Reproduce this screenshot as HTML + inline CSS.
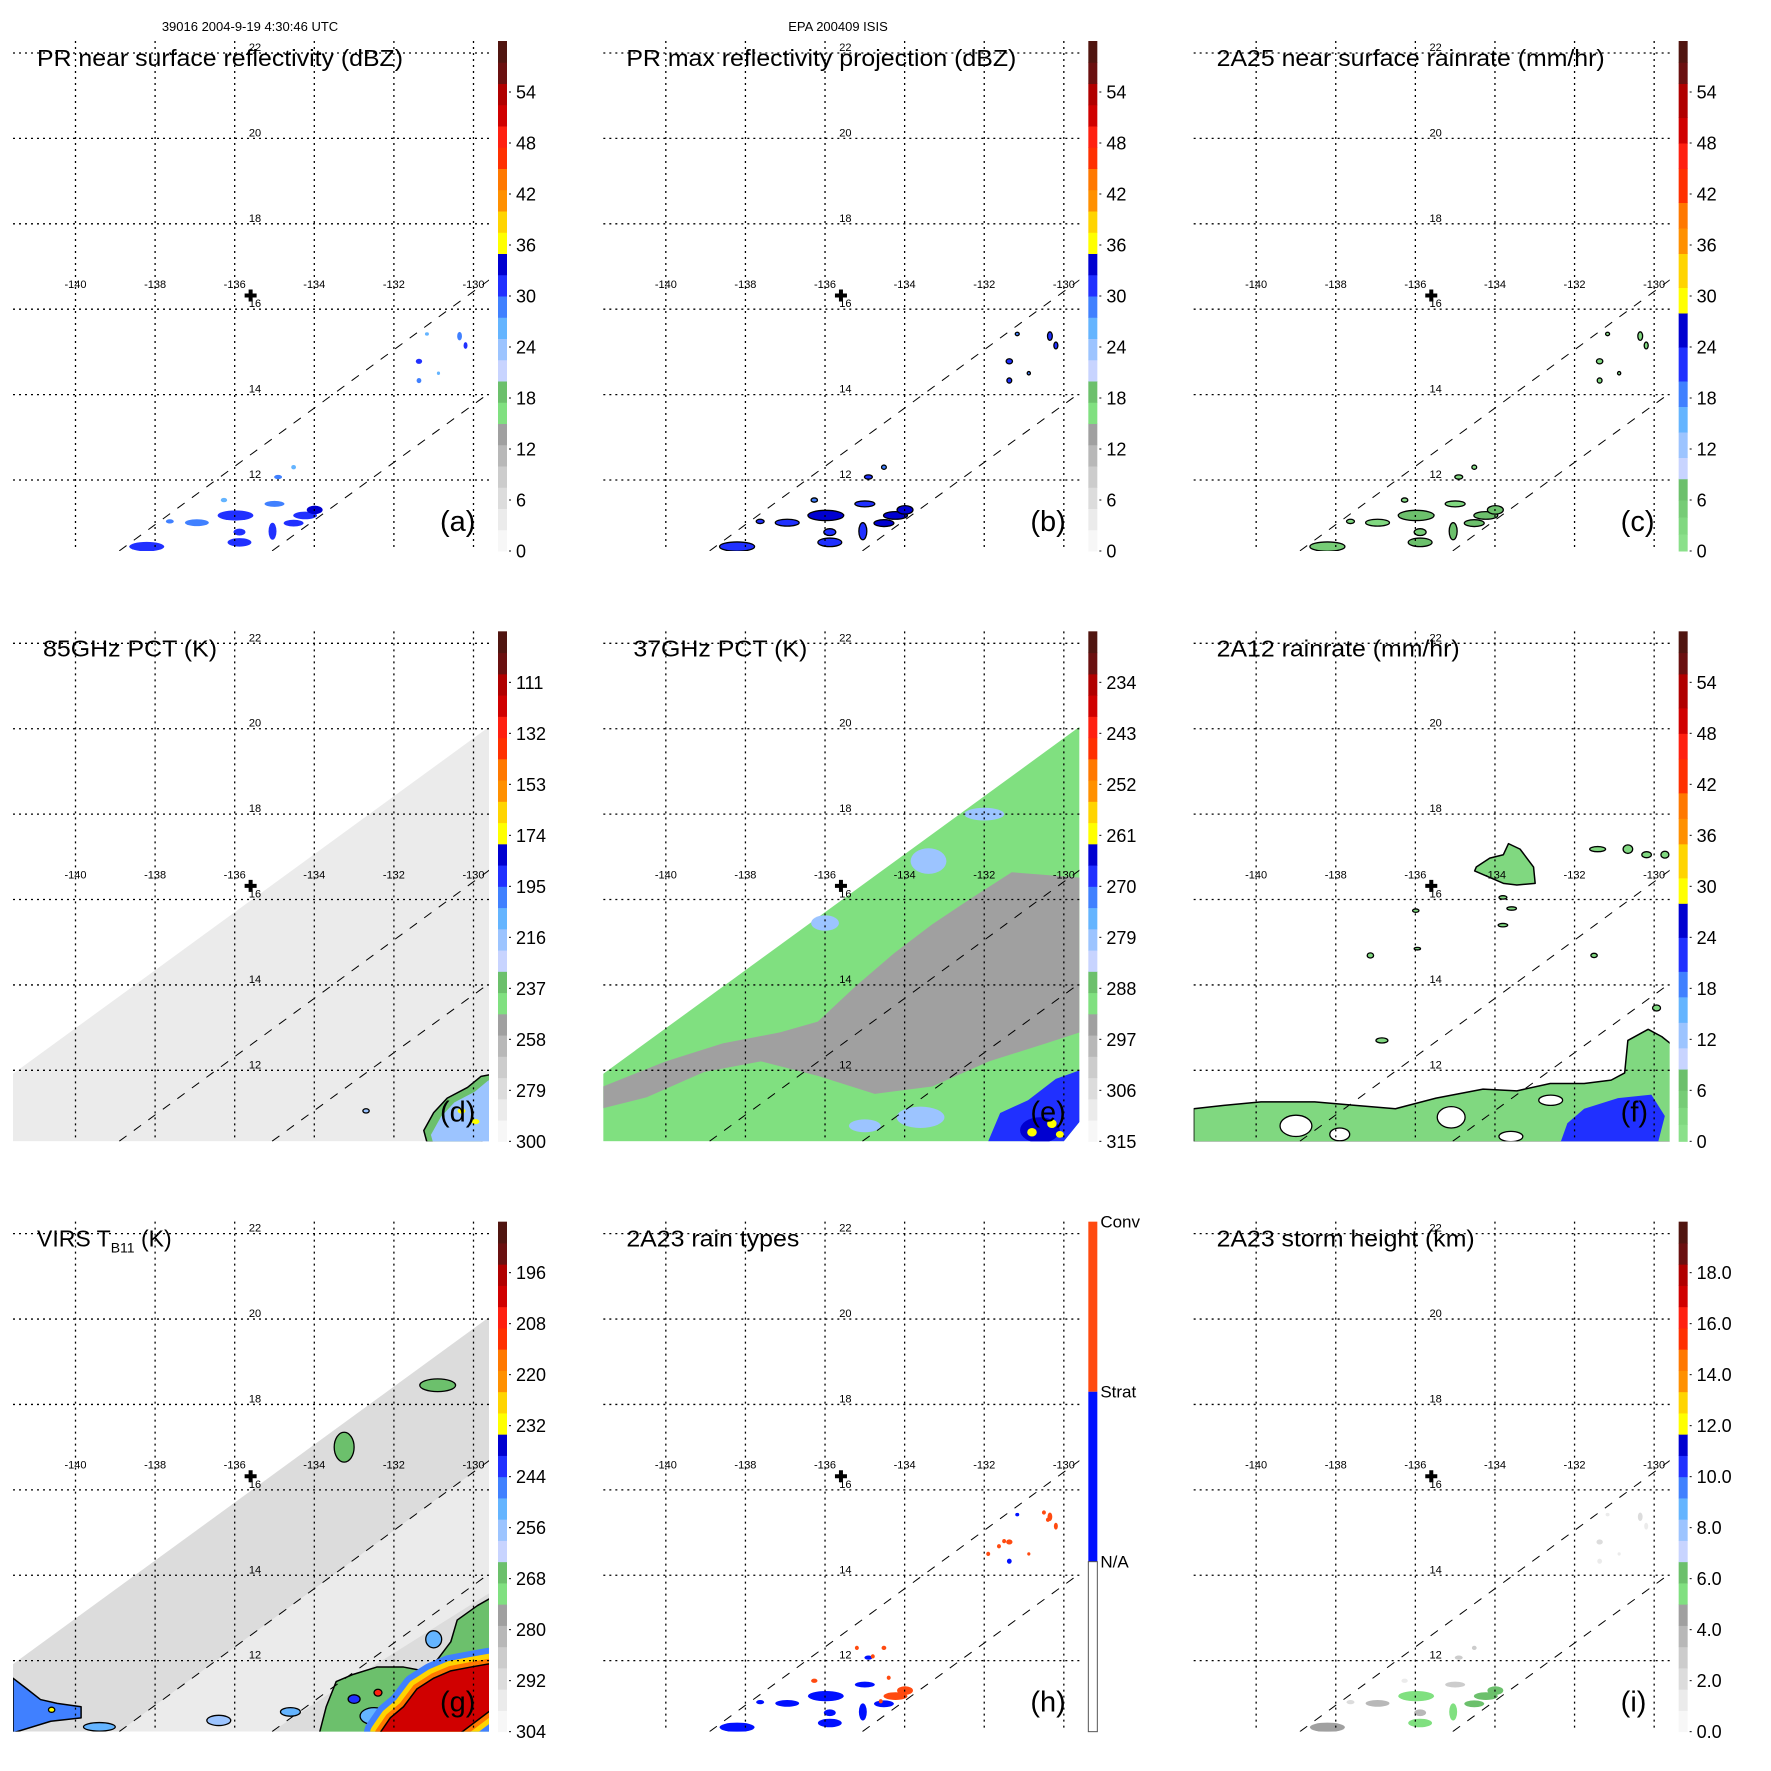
<!DOCTYPE html>
<html><head><meta charset="utf-8"><title>TRMM multi-panel</title>
<style>
html,body{margin:0;padding:0;background:#fff;}
svg{display:block;font-family:"Liberation Sans",sans-serif;}
</style></head>
<body>
<svg id="fig" width="1771" height="1771" viewBox="0 0 1771 1771" xmlns="http://www.w3.org/2000/svg">
<defs><clipPath id="plotclip"><rect x="13" y="41" width="476" height="510"/></clipPath></defs>
</svg>
<script>
// ---------- data ----------
const lonTicks = [-140,-138,-136,-134,-132,-130];
const latTicks = [22,20,18,16,14,12];
const panelIds = ['a','b','c','d','e','f','g','h','i'];
const panelTitles = ['PR near surface reflectivity (dBZ)','PR max reflectivity projection (dBZ)','2A25 near surface rainrate (mm/hr)','85GHz PCT (K)','37GHz PCT (K)','2A12 rainrate (mm/hr)','VIRS T','2A23 rain types','2A23 storm height (km)'];
const titleWidths = [366,390,388,174,174,243,0,173,258];
const cbLabelsA = ['54','48','42','36','30','24','18','12','6','0'];
const cbLabelsD = ['111','132','153','174','195','216','237','258','279','300'];
const cbLabelsE = ['234','243','252','261','270','279','288','297','306','315'];
const cbLabelsG = ['196','208','220','232','244','256','268','280','292','304'];
const cbLabelsI = ['18.0','16.0','14.0','12.0','10.0','8.0','6.0','4.0','2.0','0.0'];
const cbLabelPos = [54,48,42,36,30,24,18,12,6,0];
const rainTypeLabels = ['Conv','Strat','N/A'];
const rainTypePos = [60,40,20];
const stormCenter = [-135.6,16.32];
const swathUpper = [[-138.9,10.34],[-129.57,16.71]];
const swathLower = [[-135.06,10.34],[-129.57,14.06]];
const pmSwath = [[-141.6,11.9],[-129.6,20.05],[-129.6,10.8],[-130.0,10.34],[-141.6,10.34]];
// PR rain clusters [lon, lat, rxDeg, ryDeg]
const clusters = [
[-138.21,10.44,0.44,0.11],[-135.98,11.17,0.45,0.12],[-136.95,11.0,0.3,0.08],[-135.88,10.54,0.3,0.1],
[-135.88,10.78,0.15,0.08],[-135.0,11.44,0.25,0.07],[-135.05,10.8,0.1,0.2],[-134.52,10.99,0.25,0.08],
[-134.23,11.17,0.3,0.09],[-133.99,11.3,0.2,0.1],[-134.91,12.07,0.1,0.05],[-134.52,12.3,0.06,0.05],
[-130.35,15.37,0.06,0.1],[-130.2,15.15,0.05,0.08],[-131.37,14.78,0.08,0.06],[-131.37,14.33,0.06,0.06],
[-130.88,14.5,0.04,0.04],[-131.17,15.42,0.05,0.04],[-137.63,11.03,0.1,0.05],[-136.27,11.53,0.08,0.05]];
const aValues = [31,32,29,31,30,28,31,32,32,33,28,27,29,30,30,28,26,26,28,27];
const bValues = [32,33,31,32,31,30,32,34,33,34,30,29,31,31,31,30,29,29,30,29];
const cValues = [5,6,3,6,4,2,6,7,7,8,2,1,3,3,3,2,1,1,2,1];
const hTypes  = [1,1,1,1,1,1,1,1,2,2,1,2,2,2,2,1,2,1,1,2];
const iValues = [4.5,5.5,3.5,5.5,4,3,5.5,6,6,6.5,3,2.5,2,1.5,2,1.5,1,1,2,1.5];
const hConvDots = [[-131.63,14.68],[-131.5,14.8],[-130.5,15.47],[-130.4,15.3],[-135.2,12.3],[-134.8,12.1],[-134.4,11.6],[-134.0,11.25],[-134.6,11.05],[-131.9,14.5]];
// 85 GHz (d), K
const dSwathK = 291;
const dBlob = [[-131.25,10.59],[-131.0,11.01],[-130.66,11.35],[-130.15,11.60],[-129.81,11.86],[-129.58,11.90],[-129.58,10.59],[-129.81,10.32],[-131.17,10.32]];
const dBlobK = [216,175,237];
// 37 GHz (e), K
const eSwathK = 289;
const eWarm = [[-131.31,16.64],[-129.59,16.51],[-129.59,12.89],[-130.45,12.63],[-131.88,12.21],[-133.31,11.62],[-134.75,11.45],[-136.18,11.87],[-137.61,12.21],[-139.04,11.96],[-140.48,11.37],[-141.58,11.11],[-141.58,11.62],[-140,12.21],[-138.57,12.63],[-137.13,12.89],[-136.18,13.14],[-135.22,13.98],[-134.27,14.74],[-133.31,15.42],[-132.36,16.01]];
const eWarmK = 295;
const eBlueArea = [[-131.9,10.34],[-131.6,11.0],[-130.9,11.3],[-130.2,11.8],[-129.6,12.0],[-129.6,10.8],[-130.0,10.34]];
const eBlueK = 270;
const ePatches = [[-133.4,16.9,0.45,0.3,281],[-136.0,15.45,0.35,0.18,281],[-132.0,18.0,0.5,0.15,281],[-133.6,10.9,0.6,0.25,281],[-135.0,10.7,0.4,0.15,281],[-130.6,10.6,0.5,0.3,266],[-130.3,10.75,0.12,0.1,262],[-130.8,10.55,0.12,0.1,262],[-130.1,10.5,0.1,0.08,262]];
// 2A12 (f), mm/hr
const fBand = [[-141.57,11.10],[-140.81,11.18],[-139.88,11.26],[-138.53,11.26],[-137.51,11.18],[-136.5,11.10],[-135.48,11.35],[-134.30,11.56],[-133.45,11.52],[-132.61,11.69],[-131.76,11.69],[-131.08,11.77],[-130.74,11.94],[-130.66,12.70],[-130.15,12.96],[-129.81,12.79],[-129.58,12.62],[-129.58,10.32],[-141.57,10.32]];
const fBandRate = 3;
const fHoles = [[-139.0,10.7,0.4,0.25],[-135.1,10.9,0.35,0.25],[-133.6,10.45,0.3,0.12],[-137.9,10.5,0.25,0.15],[-132.6,11.3,0.3,0.12]];
const fBlueArea = [[-131.76,11.10],[-130.91,11.35],[-130.07,11.43],[-129.73,10.93],[-129.90,10.32],[-132.35,10.32],[-132.18,10.76]];
const fBlueRate = 21;
const fBigBlob = [[-134.47,16.76],[-134.13,16.97],[-133.79,17.05],[-133.66,17.31],[-133.37,17.18],[-133.03,16.76],[-132.99,16.38],[-133.45,16.34],[-133.79,16.38],[-134.21,16.55],[-134.51,16.67]];
const fSmall = [[-131.42,17.18,0.2,0.06],[-130.66,17.18,0.12,0.1],[-130.19,17.05,0.12,0.07],[-129.73,17.05,0.1,0.08],[-129.94,13.46,0.1,0.07],[-136.84,12.70,0.15,0.06],[-137.13,14.69,0.08,0.06],[-133.58,15.79,0.12,0.04],[-135.99,15.74,0.08,0.04],[-131.51,14.69,0.08,0.05],[-133.8,16.05,0.1,0.04],[-133.8,15.4,0.12,0.04],[-135.95,14.85,0.08,0.03]];
// VIRS (g), K
const gSwathK = 293;
const gLightBand = [[-138.9,10.34],[-129.57,16.71],[-129.57,13.6],[-133.5,11.3],[-135.06,10.34]];
const gLightK = 297;
const gOuter = [[-133.87,10.31],[-133.7,10.92],[-133.45,11.51],[-133.02,11.68],[-132.43,11.85],[-131.76,11.85],[-131.25,11.76],[-130.91,12.02],[-130.57,12.44],[-130.41,12.95],[-129.9,13.29],[-129.58,13.46],[-129.58,10.31]];
const gOuterK = 266;
const gCore = [[-132.35,10.31],[-132.09,10.66],[-131.76,10.92],[-131.42,11.34],[-131.0,11.59],[-130.57,11.76],[-130.07,11.85],[-129.58,11.93],[-129.58,10.83],[-130.32,10.31]];
const gCoreK = 203;
const gLeft = [[-141.57,11.59],[-141.22,11.34],[-140.88,11.09],[-140.46,11.0],[-139.86,10.92],[-139.86,10.66],[-140.62,10.58],[-141.57,10.31]];
const gLeftK = 248;
const gBlobs = [[-130.9,18.45,0.45,0.15,268],[-133.25,17.0,0.25,0.35,268],[-139.4,10.45,0.4,0.1,250],[-136.4,10.6,0.3,0.12,255],[-134.6,10.8,0.25,0.1,250],[-133.0,11.1,0.15,0.1,240],[-132.4,11.25,0.1,0.08,205],[-140.6,10.85,0.08,0.06,233],[-132.5,10.7,0.35,0.2,250],[-131.0,12.5,0.2,0.2,250]];
const gBandK = [[16,'#4080ff'],[10,'#ffd400'],[5,'#ff7800']];

// ---------- colormaps ----------
const genBands = ['#f7f7f7','#ebebeb','#dcdcdc','#cccccc','#b8b8b8','#a0a0a0','#80e080','#6cc06c','#c8d4ff','#9cc4ff','#64b4ff','#4080ff','#2030ff','#0000d0','#ffff00','#ffd400','#ff9000','#ff7800','#ff3000','#ff2010','#d00000','#b00000','#6a1010','#501510'];
const rainEdges = [0,2,4,6,8.5,11,14,17,20,24,28,31,35,38,41,45,48,51,55,57.5,60];
const rainBands = ['#8ae08a','#80d880','#76cc76','#6cc06c','#c8d4ff','#9cc4ff','#64b4ff','#4080ff','#2030ff','#0000d0','#ffff00','#ffd400','#ff9000','#ff7800','#ff3000','#ff2010','#d00000','#b00000','#6a1010','#501510'];

function genColor(v){ let i=Math.floor(v/2.5); if(i<0)i=0; if(i>23)i=23; return genBands[i]; }
function rainColor(v){ for(let i=0;i<rainBands.length;i++){ if(v<rainEdges[i+1]) return rainBands[i]; } return rainBands[rainBands.length-1]; }
const dIdx = k => (300-k)/3.5;
const eIdx = k => (315-k)/1.5;
const gIdx = k => (304-k)/2;
const iIdx = km => km*3;

// ---------- axes ----------
const X = lon => 75.5 + (lon+140)*39.8;
const Y = lat => 53 + (22-lat)*42.7;
const YV = v => 551 - v*8.5;
const NS = 'http://www.w3.org/2000/svg';
const fig = document.getElementById('fig');

function mk(tag, parent, attrs){ const e=document.createElementNS(NS,tag); for(const k in attrs) e.setAttribute(k,attrs[k]); parent.appendChild(e); return e; }
function ptsStr(arr){ return arr.map(p=>X(p[0]).toFixed(1)+','+Y(p[1]).toFixed(1)).join(' '); }

function drawPoly(g, arr, fill, name, stroke){
  const p = mk('polygon', g, {points: ptsStr(arr), fill: fill, stroke: stroke||'none', 'stroke-width': stroke?1.5:0, 'stroke-linejoin':'round'});
  
  
  return p;
}
function drawEll(g, c, fill, name, stroke){
  const e = mk('ellipse', g, {cx: X(c[0]), cy: Y(c[1]), rx: c[2]*39.8, ry: c[3]*42.7, fill: fill, stroke: stroke||'none', 'stroke-width': stroke?1.3:0});
  
  
  return e;
}

function drawColorbar(g, kind, labels){
  const cb = mk('g', g, {});
  
  
  if(kind==='type'){
    const segs=[[0,20,'#ffffff'],[20,40,'#0010ff'],[40,60,'#ff4a10']];
    segs.forEach(s=>{ const r=mk('rect',cb,{x:498,y:YV(s[1]),width:9,height:YV(s[0])-YV(s[1]),fill:s[2]});
        });
    mk('rect',cb,{x:498,y:YV(20),width:9,height:YV(0)-YV(20),fill:'none',stroke:'#555','stroke-width':1});
    rainTypeLabels.forEach((t,i)=>{ const tx=mk('text',cb,{x:510,y:YV(rainTypePos[i])+6,'font-size':17}); tx.textContent=t;
        });
    return;
  }
  if(kind==='rain'){
    for(let i=0;i<rainBands.length;i++){ const r=mk('rect',cb,{x:498,y:YV(rainEdges[i+1]),width:9,height:YV(rainEdges[i])-YV(rainEdges[i+1])+0.5,fill:rainBands[i]});
        }
  } else {
    for(let i=0;i<24;i++){ const r=mk('rect',cb,{x:498,y:YV((i+1)*2.5),width:9,height:2.5*8.5+0.5,fill:genBands[i]});
        }
  }
  labels.forEach((t,i)=>{
    const yv=YV(cbLabelPos[i]);
    mk('line',cb,{x1:509,x2:511,y1:yv,y2:yv,stroke:'#000','stroke-width':1});
    const tx=mk('text',cb,{x:516,y:yv+6.5,'font-size':18}); tx.textContent=t;
     
  });
}

function drawFrame(g, idx){
  [swathUpper, swathLower].forEach(L=>{
    const l=mk('line',g,{x1:X(L[0][0]),y1:Y(L[0][1]),x2:X(L[1][0]),y2:Y(L[1][1]),stroke:'#000','stroke-width':1,'stroke-dasharray':'9,9','clip-path':'url(#plotclip)'});
     
  });
  lonTicks.forEach(lon=>{
    const l=mk('line',g,{x1:X(lon),x2:X(lon),y1:41,y2:551,stroke:'#000','stroke-width':1.3,'stroke-dasharray':'2,4'});
     
    const t=mk('text',g,{x:X(lon),y:288,'font-size':11,'text-anchor':'middle'}); t.textContent=String(lon);
     
  });
  latTicks.forEach(lat=>{
    const l=mk('line',g,{x1:13,x2:489,y1:Y(lat),y2:Y(lat),stroke:'#000','stroke-width':1.3,'stroke-dasharray':'2,4'});
     
    const t=mk('text',g,{x:255,y:Y(lat)-2,'font-size':11,'text-anchor':'middle'}); t.textContent=String(lat);
     
  });
  const cx=X(stormCenter[0]), cy=Y(stormCenter[1]);
  const cr=mk('path',g,{d:`M${cx-6},${cy}H${cx+6}M${cx},${cy-6}V${cy+6}`,stroke:'#000','stroke-width':4});
   
  const tt=mk('text',g,{x:[37,36,36,43,43,36,37,36,36][idx],y:66,'font-size':23});
  if(idx===6){ tt.textContent='VIRS T'; const s=mk('tspan',tt,{'font-size':14,dy:6}); s.textContent='B11'; const s2=mk('tspan',tt,{dy:-6}); s2.textContent=' (K)'; }
  else { tt.textContent=panelTitles[idx]; tt.setAttribute('textLength',titleWidths[idx]); tt.setAttribute('lengthAdjust','spacingAndGlyphs'); }
   
  const lt=mk('text',g,{x:440,y:531,'font-size':29}); lt.textContent='('+panelIds[idx]+')';
   
}

const h1=mk('text',fig,{x:250,y:31,'font-size':13,'text-anchor':'middle'}); h1.textContent='39016 2004-9-19 4:30:46 UTC';
 
const h2=mk('text',fig,{x:838,y:31,'font-size':13,'text-anchor':'middle'}); h2.textContent='EPA 200409 ISIS';
 

panelIds.forEach((id,idx)=>{
  const col=idx%3,row=Math.floor(idx/3);
  const g=mk('g',fig,{transform:`translate(${(col*590.33).toFixed(2)},${(row*590.33).toFixed(2)})`});
  
  
  const f=mk('g',g,{'clip-path':'url(#plotclip)'});
  
  
  if(id==='a'){ clusters.forEach((c,i)=>drawEll(f,c,genColor(aValues[i]),'rain-cell')); drawColorbar(g,'gen',cbLabelsA); }
  if(id==='b'){ clusters.forEach((c,i)=>drawEll(f,c,genColor(bValues[i]),'rain-cell','#000')); drawColorbar(g,'gen',cbLabelsA); }
  if(id==='c'){ clusters.forEach((c,i)=>drawEll(f,c,rainColor(cValues[i]),'rain-cell','#000')); drawColorbar(g,'rain',cbLabelsA); }
  if(id==='d'){
    drawPoly(f,pmSwath,genColor(dIdx(dSwathK)),'pct85-swath');
    drawPoly(f,dBlob,genColor(dIdx(dBlobK[2])),'pct85-cold-area','#000');
    const inner=dBlob.map(p=>[p[0]+0.18,p[1]-0.1]);
    drawPoly(f,inner,genColor(dIdx(dBlobK[0])),'pct85-cold-core');
    drawEll(f,[-130.3,11.05,0.1,0.06],genColor(dIdx(dBlobK[1])),'pct85-very-cold');
    drawEll(f,[-129.95,10.8,0.1,0.06],genColor(dIdx(dBlobK[1])),'pct85-very-cold');
    drawEll(f,[-132.7,11.05,0.08,0.05],genColor(dIdx(dBlobK[0])),'pct85-cell','#000');
    drawColorbar(g,'gen',cbLabelsD);
  }
  if(id==='e'){
    drawPoly(f,pmSwath,genColor(eIdx(eSwathK)),'pct37-swath');
    drawPoly(f,eWarm,genColor(eIdx(eWarmK)),'pct37-warm-area');
    drawPoly(f,eBlueArea,genColor(eIdx(eBlueK)),'pct37-cold-area');
    ePatches.forEach(p=>drawEll(f,p,genColor(eIdx(p[4])),'pct37-patch'));
    drawColorbar(g,'gen',cbLabelsE);
  }
  if(id==='f'){
    drawPoly(f,fBand,rainColor(fBandRate),'rain-band','#000');
    fHoles.forEach(h=>drawEll(f,h,'#ffffff','rain-gap','#000'));
    drawPoly(f,fBlueArea,rainColor(fBlueRate),'heavy-rain-area');
    drawPoly(f,fBigBlob,rainColor(fBandRate),'rain-area','#000');
    fSmall.forEach(s=>drawEll(f,s,rainColor(fBandRate),'rain-cell','#000'));
    drawColorbar(g,'rain',cbLabelsA);
  }
  if(id==='g'){
    drawPoly(f,pmSwath,genColor(gIdx(gSwathK)),'virs-swath');
    drawPoly(f,gLightBand,genColor(gIdx(gLightK)),'virs-warm-band');
    drawPoly(f,gOuter,genColor(gIdx(gOuterK)),'virs-cloud-area','#000');
    drawPoly(f,gLeft,genColor(gIdx(gLeftK)),'virs-cloud-left','#000');
    gBlobs.forEach(b=>drawEll(f,b,genColor(gIdx(b[4])),'virs-cloud','#000'));
    gBandK.forEach(b=>{ const p=drawPoly(f,gCore,b[1],'virs-core-ring'); p.setAttribute('stroke',b[1]); p.setAttribute('stroke-width',b[0]*2); });
    drawPoly(f,gCore,genColor(gIdx(gCoreK)),'virs-cold-core','#000');
    drawColorbar(g,'gen',cbLabelsG);
  }
  if(id==='h'){
    clusters.forEach((c,i)=>drawEll(f,c,hTypes[i]===2?'#ff4a10':'#0010ff','rain-type-cell'));
    hConvDots.forEach(d=>drawEll(f,[d[0],d[1],0.05,0.05],'#ff4a10','convective-pixel'));
    drawColorbar(g,'type',[]);
  }
  if(id==='i'){ clusters.forEach((c,i)=>drawEll(f,c,genColor(iIdx(iValues[i])),'storm-height-cell')); drawColorbar(g,'gen',cbLabelsI); }
  drawFrame(g,idx);
});
</script>
</body></html>
